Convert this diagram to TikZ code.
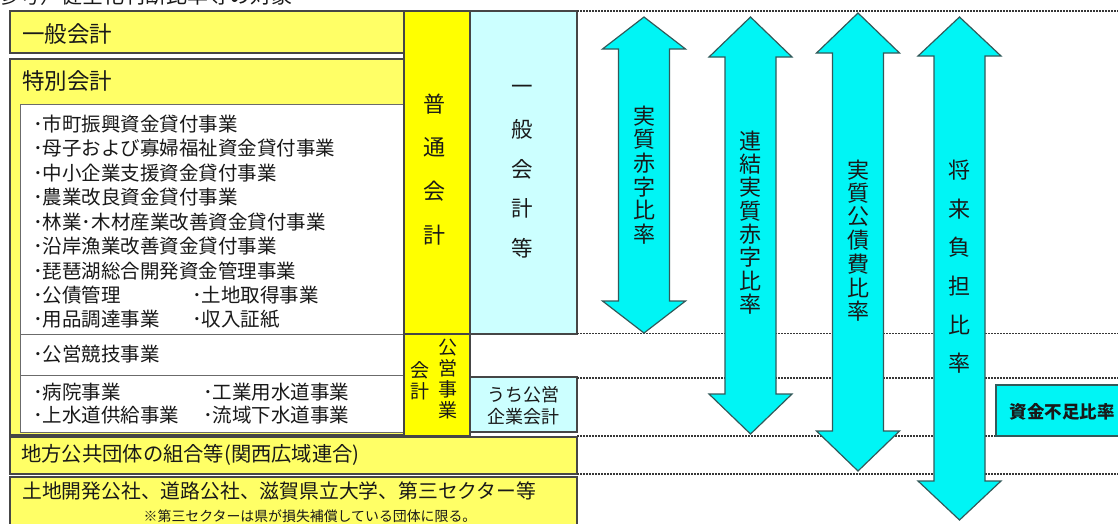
\documentclass[tikz,border=0pt]{standalone}
\usepackage{fontspec}
\setmainfont{Noto Sans CJK JP}
\definecolor{paleyellow}{RGB}{255,255,102}
\definecolor{strongyellow}{RGB}{255,255,0}
\definecolor{lightblue}{RGB}{204,255,255}
\definecolor{arrowcyan}{RGB}{0,245,245}
\definecolor{arrowedge}{RGB}{50,90,90}
\definecolor{bordergray}{RGB}{70,70,70}
\definecolor{dotgray}{RGB}{55,55,55}
\definecolor{textcol}{RGB}{25,25,25}
\newcommand{\vchars}[6]{% name, x, y0, step, fontsize, chars
  \foreach \c [count=\i] in {#6}
    \node[ctxt, font=\fontsize{#5}{#5}\selectfont] (#1\i) at (#2,{#3+(\i-1)*#4}) {\c};}
\begin{document}
\begin{tikzpicture}[x=1pt,y=-1pt,
  pbox/.style={draw=bordergray, line width=1.2pt, fill=paleyellow},
  wbox/.style={draw=bordergray!80, line width=1pt, fill=white},
  ybox/.style={draw=bordergray, line width=1.2pt, fill=strongyellow},
  bbox/.style={draw=bordergray, line width=1.2pt, fill=lightblue},
  txt/.style={anchor=west, inner sep=0pt, text=textcol},
  ctxt/.style={anchor=center, inner sep=0pt, text=textcol, align=center},
  dotline/.style={draw=dotgray, line width=1.8pt, dash pattern=on 1.8pt off 1.2pt},
  barrow/.style={fill=arrowcyan, draw=arrowedge, line width=1.2pt, line join=miter},
]
\useasboundingbox (0,0) rectangle (1118,523);
% cut title
\node[txt, font=\fontsize{21}{24}\selectfont] (title) at (-2,-4) {参考）健全化判断比率等の対象};
% left boxes
\draw[pbox] (10,11) rectangle (404,53);
\draw[pbox] (10,59) rectangle (404,435);
\draw[wbox] (20,104) rectangle (404,334);
\draw[wbox] (20,334) rectangle (404,375);
\draw[wbox] (20,375) rectangle (404,432);
\draw[ybox] (404,11) rectangle (470,334);
\draw[bbox] (470,11) rectangle (577,334);
\draw[ybox] (404,334) rectangle (470,436);
\draw[bbox] (470,377) rectangle (577,432);
\draw[pbox] (10,437) rectangle (577,474);
\draw[pbox] (10,477) rectangle (577,530);
% dotted level lines
\foreach \yy in {11,333.5,378,436,474}
  \draw[dotline] (577,\yy) -- (1118,\yy);
% texts left
\node[txt, font=\fontsize{22.5}{26}\selectfont] (ippan) at (22,34) {一般会計};
\node[txt, font=\fontsize{22.5}{26}\selectfont] (tokubetsu) at (22,81) {特別会計};
\begin{scope}[every node/.style={txt, font=\fontsize{19.5}{22}\selectfont}]
\node (l1) at (33,124) {･市町振興資金貸付事業};
\node (l2) at (33,148.5) {･母子および寡婦福祉資金貸付事業};
\node (l3) at (33,173) {･中小企業支援資金貸付事業};
\node (l4) at (33,197.5) {･農業改良資金貸付事業};
\node (l5) at (33,222) {･林業･木材産業改善資金貸付事業};
\node (l6) at (33,246.5) {･沿岸漁業改善資金貸付事業};
\node (l7) at (33,271) {･琵琶湖総合開発資金管理事業};
\node (l8) at (33,295.5) {･公債管理};
\node (l9) at (33,319.5) {･用品調達事業};
\node (l10) at (192,295.5) {･土地取得事業};
\node (l11) at (192,319.5) {･収入証紙};
\node (k1) at (33,354) {･公営競技事業};
\node (k2) at (33,392) {･病院事業};
\node (k3) at (33,415) {･上水道供給事業};
\node (k4) at (203,392) {･工業用水道事業};
\node (k5) at (203,415) {･流域下水道事業};
\end{scope}
\node[txt, font=\fontsize{20.3}{24}\selectfont] (chiho) at (21,455) {地方公共団体の組合等(関西広域連合)};
\node[txt, font=\fontsize{19.8}{24}\selectfont] (tochi) at (22,491) {土地開発公社、道路公社、滋賀県立大学、第三セクター等};
\node[txt, font=\fontsize{13.9}{16}\selectfont] (note) at (143.5,516) {※第三セクターは県が損失補償している団体に限る。};
% column texts (vertical)
\vchars{futsu}{434}{104}{43.7}{22}{普,通,会,計}
\vchars{ippanto}{522}{90}{39.5}{21.5}{一,般,会,計,等}
\vchars{koeiA}{448}{348}{20.7}{19}{公,営,事,業}
\vchars{koeiB}{420}{370}{21.5}{19}{会,計}
\node[ctxt, font=\fontsize{18}{22}\selectfont] (uchi) at (523,406) {うち公営\\企業会計};
% arrows
\foreach \cx/\ty/\by/\hh in {644/17/333/32, 750.5/17/434/40, 858/13/471/40, 959.5/17/520/39}
  \draw[barrow] (\cx,\ty) -- (\cx+41.5,\ty+\hh) -- (\cx+25.5,\ty+\hh) -- (\cx+25.5,\by-\hh)
    -- (\cx+41.5,\by-\hh) -- (\cx,\by) -- (\cx-41.5,\by-\hh) -- (\cx-25.5,\by-\hh)
    -- (\cx-25.5,\ty+\hh) -- (\cx-41.5,\ty+\hh) -- cycle;
\vchars{aA}{644}{116}{23.6}{22}{実,質,赤,字,比,率}
\vchars{aB}{750.5}{141}{23.3}{22}{連,結,実,質,赤,字,比,率}
\vchars{aC}{858}{170}{23.5}{22}{実,質,公,債,費,比,率}
\vchars{aD}{959.5}{170}{38.7}{22}{将,来,負,担,比,率}
% shortage ratio box
\draw[barrow] (996,385) rectangle (1130,436);
\node[ctxt, font=\fontsize{17.5}{20}\selectfont\bfseries] (shikin) at (1062,411.5) {資金不足比率};
\end{tikzpicture}
\end{document}
